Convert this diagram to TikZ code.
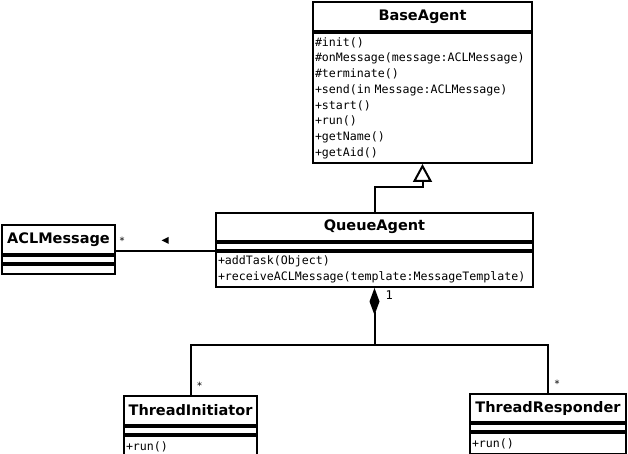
\documentclass[tikz,border=0pt]{standalone}
\usepackage{fontspec}
\newfontfamily\umlmono{DejaVu Sans Mono}
\newfontfamily\umlsans{DejaVu Sans}
\usetikzlibrary{arrows.meta,positioning,shapes.geometric}

\begin{document}
\begin{tikzpicture}[
        x=1pt, y=-1pt,
        every node/.style={inner sep=0pt, line width=2pt},
        classname/.style={draw, anchor=north west, font=\umlsans\bfseries\fontsize{14.5}{16}\selectfont},
        classattr/.style={draw, anchor=north west, minimum height=7pt},
        classops/.style={draw, anchor=north west, align=left, inner xsep=2pt, font=\umlmono\fontsize{11.6}{15.7}\selectfont},
        mult/.style={font=\umlmono\fontsize{10}{12}\selectfont, inner sep=2pt},
        navmark/.style={isosceles triangle, fill, shape border rotate=180, minimum height=7pt, minimum width=7pt, isosceles triangle stretches},
        link/.style={line width=2pt}
      ]
      \useasboundingbox (0,0) rectangle (628,454);

      % BaseAgent
      \node[classname, minimum width=219pt, minimum height=29pt] (base) at (312,1) {BaseAgent};
      \node[classops, minimum width=219pt, text width=215pt, minimum height=130pt] (baseops) at (base.south west)
        {\#init()\\\#onMessage(message:ACLMessage)\\\#terminate()\\+send(in Message:ACLMessage)\\+start()\\+run()\\+getName()\\+getAid()};

      % QueueAgent
      \node[classname, minimum width=317pt, minimum height=28pt] (queue) at (215,212) {QueueAgent};
      \node[classattr, minimum width=317pt] (queueattr) at (queue.south west) {};
      \node[classops, minimum width=317pt, text width=313pt, minimum height=35pt] (queueops) at (queueattr.south west)
        {+addTask(Object)\\+receiveACLMessage(template:MessageTemplate)};

      % ACLMessage
      \node[classname, minimum width=113pt, minimum height=29pt] (acl) at (1,224) {ACLMessage};
      \node[classattr, minimum width=113pt] (aclattr) at (acl.south west) {};
      \node[classattr, minimum width=113pt, minimum height=9pt] (aclops) at (aclattr.south west) {};

      % threads
      \node[classname, minimum width=133pt, minimum height=29pt] (init) at (123,395) {ThreadInitiator};
      \node[classattr, minimum width=133pt] (initattr) at (init.south west) {};
      \node[classops, minimum width=133pt, text width=129pt, minimum height=21pt] (initops) at (initattr.south west) {+run()};

      \node[classname, minimum width=156pt, minimum height=28pt] (resp) at (469,393) {ThreadResponder};
      \node[classattr, minimum width=156pt] (respattr) at (resp.south west) {};
      \node[classops, minimum width=156pt, text width=152pt, minimum height=21pt] (respops) at (respattr.south west) {+run()};

      % inheritance
      \draw[link, -{Triangle[open, width=19pt, length=18pt]}] (queue.north) -- ++(0,-25) -| (baseops.south);

      % association
      \draw[link] (queueattr.south west) -- node[navmark, pos=0.49, above=7pt] (navdir) {}
        (queueattr.south west -| acl.east) node[mult, anchor=south west, yshift=4pt] (aclmult) {*};

      % composition
      \draw[link, {Diamond[width=10pt, length=27pt]}-] (queueops.south) node[mult, font=\umlmono\fontsize{12}{14}\selectfont, anchor=north west, xshift=8pt] (onemult) {1}
        -- ++(0,57) coordinate (fork) -| (init.north) node[mult, anchor=south west, xshift=3pt, yshift=3pt] (initmult) {*};
      \draw[link] (fork) -| (resp.north) node[mult, anchor=south west, xshift=3pt, yshift=3pt] (respmult) {*};
    \end{tikzpicture}
\end{document}
